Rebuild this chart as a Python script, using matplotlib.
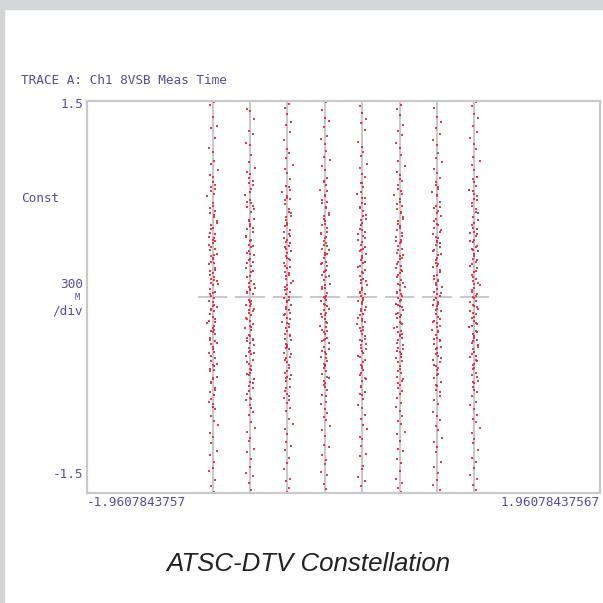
import numpy as np
import matplotlib.pyplot as plt
import matplotlib.patches as patches

# axis range from the instrument readout
x_min, x_max = -1.9607843757, 1.96078437567
y_min, y_max = -1.5, 1.5

# 8VSB symbol levels (normalised)
levels = [-1.0, -5/7, -3/7, -1/7, 1/7, 3/7, 5/7, 1.0]

# sampled points per level, y in hundredths
col0 = [149, 147, 138, 131, 129, 122, 114, 111, 104, 102, 97, 93, 92, 86, 81, 79, 77, 72, 66, 64, 63, 58, 55, 53, 49, 48, 46, 45, 41, 38, 37, 36, 33, 30, 27, 26, 25, 21, 18, 17, 13, 11, 10, 9, 6, 4, 1, -1, -3, -4, -8, -10, -11, -13, -15, -19, -20, -22, -26, -27, -28, -31, -35, -36, -40, -42, -43, -47, -49, -52, -53, -57, -61, -62, -66, -71, -73, -75, -80, -84, -86, -91, -95, -98, -104, -107, -112, -118, -121, -126, -131, -133, -140, -145, -149]
col1 = [150, 144, 142, 136, 127, 125, 118, 116, 109, 103, 99, 96, 94, 89, 87, 83, 78, 74, 70, 69, 65, 60, 59, 56, 52, 50, 47, 44, 43, 40, 39, 34, 32, 29, 28, 24, 22, 20, 16, 15, 12, 8, 7, 5, 3, 2, -2, -5, -6, -7, -9, -12, -14, -17, -18, -21, -24, -25, -29, -30, -33, -34, -37, -39, -41, -44, -45, -48, -51, -55, -56, -59, -63, -65, -68, -70, -74, -78, -79, -83, -88, -90, -96, -100, -103, -108, -110, -116, -119, -124, -130, -135, -137, -142, -148, -150]
col2 = [148, 145, 140, 134, 132, 126, 120, 113, 110, 106, 101, 98, 95, 90, 85, 84, 80, 76, 75, 71, 67, 62, 61, 57, 54, 51, 50, 48, 44, 42, 41, 38, 35, 34, 31, 29, 26, 23, 22, 19, 18, 14, 12, 9, 8, 4, 2, 0, -1, -4, -6, -8, -10, -13, -16, -17, -19, -23, -24, -26, -29, -32, -33, -36, -38, -40, -43, -46, -47, -50, -54, -58, -60, -61, -64, -69, -72, -76, -77, -81, -85, -87, -93, -97, -101, -105, -111, -114, -117, -123, -127, -132, -139, -141, -146, -149]
col3 = [149, 143, 137, 135, 130, 123, 121, 117, 112, 107, 105, 100, 97, 91, 88, 86, 82, 77, 73, 72, 68, 64, 60, 58, 55, 53, 49, 46, 45, 43, 39, 37, 36, 32, 30, 27, 25, 24, 20, 17, 15, 13, 10, 7, 6, 3, 0, -2, -3, -6, -9, -10, -12, -15, -17, -20, -22, -23, -27, -28, -31, -34, -35, -38, -42, -44, -46, -49, -51, -53, -57, -59, -62, -66, -67, -71, -75, -80, -82, -86, -89, -92, -94, -99, -102, -106, -113, -115, -121, -125, -128, -134, -136, -143, -147, -150]
col4 = [150, 146, 141, 136, 133, 128, 119, 115, 111, 108, 102, 99, 94, 92, 87, 84, 79, 76, 71, 69, 66, 63, 59, 57, 52, 50, 48, 47, 42, 40, 38, 35, 33, 31, 28, 26, 23, 21, 19, 16, 14, 11, 9, 7, 4, 2, 1, -1, -3, -5, -8, -11, -13, -14, -18, -19, -21, -25, -26, -28, -32, -33, -36, -37, -41, -43, -45, -48, -52, -54, -56, -60, -63, -64, -69, -73, -74, -78, -83, -85, -90, -93, -98, -101, -107, -109, -114, -120, -122, -129, -132, -138, -141, -145, -150]
col5 = [147, 144, 139, 132, 127, 124, 118, 114, 109, 104, 100, 96, 93, 89, 86, 81, 78, 75, 70, 67, 65, 61, 58, 54, 51, 49, 46, 44, 41, 39, 37, 34, 32, 29, 27, 24, 22, 20, 18, 15, 13, 10, 8, 5, 3, 1, -1, -2, -5, -7, -10, -12, -14, -16, -19, -21, -24, -26, -27, -30, -31, -35, -37, -39, -42, -44, -47, -49, -50, -55, -58, -61, -63, -67, -70, -72, -77, -81, -84, -87, -91, -95, -97, -103, -105, -110, -116, -118, -124, -127, -133, -139, -142, -146, -149]
col6 = [150, 145, 138, 134, 129, 125, 120, 116, 110, 106, 103, 98, 95, 91, 88, 83, 80, 77, 73, 68, 66, 62, 60, 56, 53, 50, 48, 45, 43, 40, 38, 36, 33, 30, 28, 25, 23, 21, 17, 16, 12, 11, 8, 6, 4, 1, -1, -4, -6, -7, -11, -13, -15, -18, -20, -22, -25, -27, -29, -31, -34, -36, -38, -40, -43, -45, -48, -50, -53, -56, -59, -62, -65, -68, -71, -76, -79, -82, -88, -91, -94, -99, -102, -108, -111, -115, -119, -126, -130, -135, -140, -144, -148]
col7 = [149, 146, 140, 137, 131, 126, 122, 117, 113, 107, 104, 101, 97, 92, 90, 85, 82, 79, 74, 72, 67, 64, 61, 57, 55, 52, 49, 47, 44, 42, 39, 37, 35, 31, 29, 27, 24, 22, 19, 17, 14, 12, 9, 7, 5, 2, 0, -3, -4, -7, -9, -12, -13, -16, -18, -21, -23, -26, -28, -30, -33, -35, -37, -40, -42, -45, -46, -49, -52, -54, -58, -60, -64, -66, -69, -73, -76, -80, -83, -86, -90, -93, -96, -100, -104, -109, -112, -117, -123, -126, -131, -136, -139, -144, -148]

# extra points in the dense middle band of each level
mid0 = [88, 84, 83, 70, 68, 61, 57, 52, 44, 43, 40, 32, 31, 29, 22, 20, 15, 14, 12, 3, 2, -6, -7, -9, -17, -18, -24, -25, -33, -34, -38, -45, -51, -55, -56, -63, -65, -70, -78, -82]
mid1 = [91, 86, 80, 73, 72, 67, 58, 54, 53, 46, 38, 35, 33, 27, 26, 19, 11, 10, 6, 4, -3, -4, -10, -11, -16, -22, -23, -31, -32, -35, -42, -43, -50, -53, -58, -60, -66, -72, -77, -85]
mid2 = [85, 82, 77, 74, 65, 64, 59, 55, 47, 45, 39, 37, 30, 28, 24, 17, 16, 11, 6, 5, -2, -3, -9, -12, -14, -20, -21, -28, -30, -37, -39, -44, -48, -52, -57, -62, -63, -70, -74, -79]
mid3 = [89, 81, 78, 74, 69, 63, 62, 56, 50, 48, 41, 40, 34, 33, 26, 21, 19, 16, 9, 8, 1, -1, -5, -7, -13, -14, -19, -25, -26, -32, -33, -40, -41, -47, -52, -54, -61, -64, -69, -76]
mid4 = [87, 80, 76, 72, 68, 62, 60, 55, 51, 45, 44, 37, 36, 30, 27, 24, 18, 13, 12, 5, 3, -2, -4, -9, -10, -16, -17, -23, -24, -30, -34, -39, -40, -46, -50, -53, -58, -62, -68, -75]
mid5 = [90, 83, 79, 73, 71, 64, 60, 56, 53, 47, 43, 42, 36, 31, 30, 25, 21, 17, 11, 9, 4, 2, -3, -6, -8, -13, -15, -20, -23, -28, -29, -33, -40, -41, -46, -53, -57, -64, -66, -74]
mid6 = [86, 84, 78, 70, 69, 64, 58, 55, 51, 46, 42, 41, 35, 32, 26, 24, 19, 14, 13, 9, 3, 2, -2, -5, -9, -10, -17, -19, -23, -26, -32, -33, -39, -44, -47, -52, -54, -60, -67, -73]
mid7 = [88, 81, 77, 75, 70, 65, 59, 53, 50, 48, 43, 38, 36, 33, 28, 25, 20, 15, 11, 10, 4, 1, -1, -6, -8, -11, -15, -20, -22, -27, -31, -34, -38, -44, -48, -51, -55, -61, -65, -71]

columns = [col0 + mid0, col1 + mid1, col2 + mid2, col3 + mid3,
           col4 + mid4, col5 + mid5, col6 + mid6, col7 + mid7]

# horizontal scatter around each level, hundredths
offsets = [1, -2, 0, 3, -1, 2, -3, 0, 1, -1, 4, -2, 0, 2, -1, 1, -4, 0, 2, -2, 1, 3, -1, 0, -2, 2, -3, 1, 0, -1, 2, -2, 3, 0, -1, 1, -3, 2, 0, -2, 1, -1, 4, 0, -2, 2, -1, 1, -3, 0, 3, -1, 1, -2, 0, 2, -4, 1, -1, 0, 2, -2, 3, -1, 0, 1, -3, 2, -1, 0, 1, -2, 3, 0, -1, 2, -2, 1, -3, 0, 2, -1, 1, 4, -2, 0, -1, 3, -2, 1, 0, -3, 2, -1, 1, 0,
           -1, 2, 0, -2, 1, 3, -1, 0, 2, -3, 1, -1, 0, 2, -2, 1, -1, 3, 0, -2, 1, 0, -1, 2, -3, 0, 1, -2, 2, 0, -1, 3, -2, 1, 0, -1, 2, -1, 0, 1, -2, 3, -1, 0, 2, -1, 1, -3]

purple = '#5b4c9f'
grid_c = '#c9c9c9'
red = '#e2293a'

fig = plt.figure(figsize=(6.03, 6.03), dpi=100)
W = H = 603.0

# grey frame of the page
fig.patches.append(patches.Rectangle((0, 1 - 9/H), 1, 9/H, transform=fig.transFigure,
                                     color='#d4d5d7', zorder=0))
fig.patches.append(patches.Rectangle((0, 0), 4/W, 1, transform=fig.transFigure,
                                     color='#d4d5d7', zorder=0))

ax = fig.add_axes([87/W, 1 - 493/H, (600 - 87)/W, (493 - 101)/H])
ax.set_xlim(x_min, x_max)
ax.set_ylim(y_min, y_max)
ax.set_xticks([])
ax.set_yticks([])
for key in ax.spines:
    ax.spines[key].set_color(grid_c)
    ax.spines[key].set_linewidth(1.6)

# level lines and the dashed zero line
for c in levels:
    ax.axvline(c, color=grid_c, linewidth=1.5, zorder=1)
    ax.plot([c - 0.105, c + 0.105], [0, 0], color=grid_c, linewidth=1.5, zorder=1)

# constellation points
for c, ys in zip(levels, columns):
    ys = np.array(ys) / 100
    dx = np.array(offsets[:len(ys)]) / 100
    ax.plot(c + dx, ys, linestyle='none', marker='s', markersize=1.7,
            markeredgewidth=0, color=red, alpha=0.9, zorder=2, clip_on=False)

# instrument annotations
mono = dict(family='DejaVu Sans Mono', color=purple, fontsize=9.2)
fig.text(21/W, 1 - 80/H, 'TRACE A: Ch1 8VSB Meas Time', ha='left', va='center', **mono)
fig.text(83/W, 1 - 104/H, '1.5', ha='right', va='center', **mono)
fig.text(21/W, 1 - 199/H, 'Const', ha='left', va='center', **mono)
fig.text(83/W, 1 - 285/H, '300', ha='right', va='center', **mono)
fig.text(80/W, 1 - 298/H, 'M', ha='right', va='center', family='DejaVu Sans Mono',
         color=purple, fontsize=6)
fig.text(83/W, 1 - 311/H, '/div', ha='right', va='center', **mono)
fig.text(83/W, 1 - 475/H, '-1.5', ha='right', va='center', **mono)
fig.text(87/W, 1 - 503/H, '-1.9607843757', ha='left', va='center', **mono)
fig.text(600/W, 1 - 503/H, '1.96078437567', ha='right', va='center', **mono)

fig.text(308/W, 1 - 564/H, 'ATSC-DTV Constellation', ha='center', va='center',
         family='Liberation Sans', style='italic', fontsize=18.6, color='#222222')

fig.savefig('out.png', dpi=100)
